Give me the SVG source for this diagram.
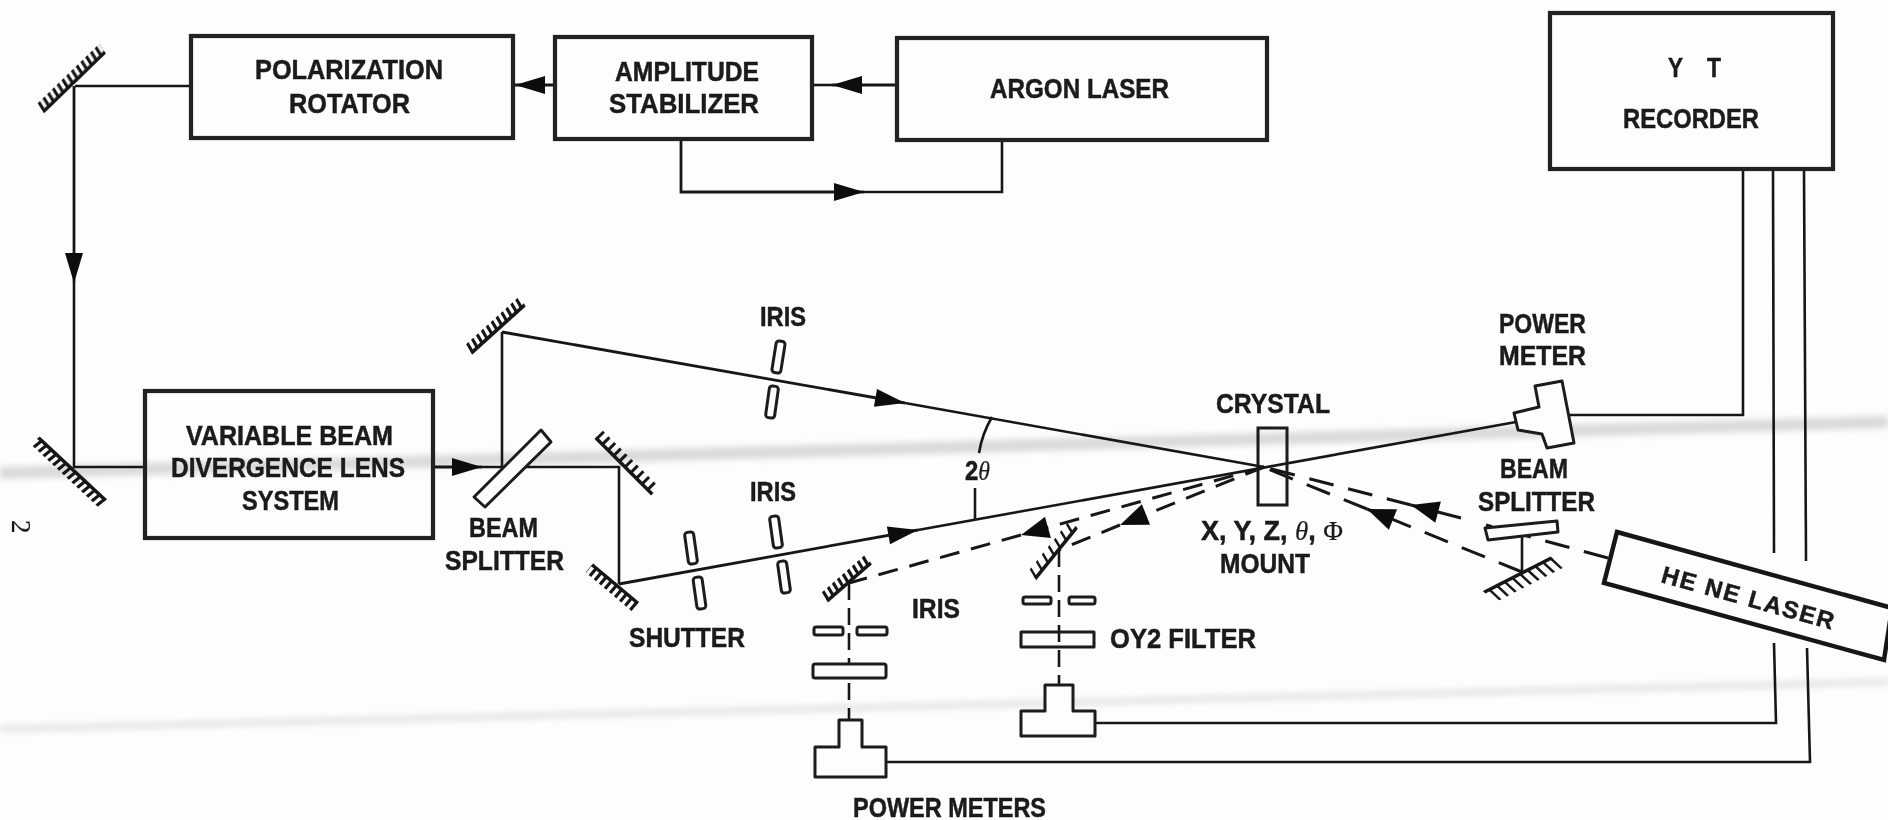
<svg xmlns="http://www.w3.org/2000/svg" width="1888" height="820" viewBox="0 0 1888 820">
<style>
.box{fill:none;stroke:#222;stroke-width:4.2}
.thin{fill:none;stroke:#1c1c1c;stroke-width:3;stroke-linejoin:miter}
.opt{fill:#fdfdfd;stroke:#1c1c1c;stroke-width:3;stroke-linejoin:round}
.w{fill:none;stroke:#181818;stroke-width:2.6}
.a{fill:none;stroke:#181818;stroke-width:2.8;marker-end:url(#arrow)}
.d{fill:none;stroke:#181818;stroke-width:3;stroke-dasharray:20 12}
.dr{fill:none;stroke:#181818;stroke-width:3;stroke-dasharray:25 15}
.da{fill:none;stroke:#181818;stroke-width:3;stroke-dasharray:25 15;marker-end:url(#wedge)}
.dl{fill:none;stroke:#181818;stroke-width:3;stroke-dasharray:20 12;marker-end:url(#wedge)}
.dv{fill:none;stroke:#181818;stroke-width:2.6;stroke-dasharray:17 8}
.m{stroke:#151515;stroke-width:3.5}
.h{stroke:#151515;stroke-width:10;stroke-dasharray:3.2 3.4}
text{font-family:"Liberation Sans",Arial,sans-serif;font-weight:700;font-size:28px;fill:#1a1a1a;stroke:#1a1a1a;stroke-width:.5}
.s{font-family:"Liberation Serif","Times New Roman",serif;font-weight:400;stroke-width:.2}
</style>
<defs>
<marker id="arrow" markerUnits="userSpaceOnUse" markerWidth="30" markerHeight="20" refX="30" refY="10" orient="auto" overflow="visible"><path d="M0 1L30 10L0 19Z" fill="#111"/></marker>
<marker id="wedge" markerUnits="userSpaceOnUse" markerWidth="28" markerHeight="24" refX="28" refY="12" orient="auto" overflow="visible"><path d="M0 1L28 12L0 23Z" fill="#111"/></marker>
<filter id="soft" x="-5%" y="-5%" width="110%" height="110%"><feGaussianBlur stdDeviation="0.55"/></filter>
<filter id="fold" x="-5%" y="-50%" width="110%" height="200%"><feGaussianBlur stdDeviation="3"/></filter>
</defs>
<rect width="1888" height="820" fill="#fdfdfd"/>
<g id="page-folds" filter="url(#fold)">
<line x1="0" y1="473" x2="1888" y2="422" stroke="#d9d9d9" stroke-width="12"/>
<line x1="0" y1="729" x2="1888" y2="682" stroke="#e2e2e2" stroke-width="6"/>
</g>
<g filter="url(#soft)">
<g id="connectors">
<path class="w" d="M190 86H75"/>
<path class="a" d="M74 86V283"/><path class="w" d="M74 283V467H145"/>
<path class="a" d="M555 85H515"/>
<path class="a" d="M897 85H832"/><path class="w" d="M832 85H812"/>
<path class="a" d="M681 139V192H864"/><path class="w" d="M864 192H1002V140"/>
<path class="a" d="M433 467H482"/><path class="w" d="M482 467H619V584"/>
<path class="w" d="M502 467V332"/>
<path class="a" d="M502 332L905 403"/><path class="w" d="M905 403L1264 467"/>
<path class="a" d="M619 584L918 530"/><path class="w" d="M918 530L1516 422"/>
<path class="w" d="M975 488V520"/>
<path class="w" d="M992 417Q982 434 979 453"/>
<path class="dl" d="M1264 467L1021 535"/><path class="d" d="M1021 535L849 583"/>
<path class="dl" d="M1264 467L1120 525"/><path class="d" d="M1120 525L1059 550"/>
<path class="dr" d="M1608 558L1486 525"/>
<path class="da" d="M1461 518L1411 505"/><path class="dr" d="M1411 505L1268 468"/>
<path class="da" d="M1522 572L1367 509"/><path class="dr" d="M1367 509L1268 469"/>
<path class="w" d="M1522 535V572"/>
<path class="dv" d="M849 583V720"/>
<path class="dv" d="M1059 550V685"/>
<path class="w" d="M1569 415H1743V169"/>
<path class="w" d="M1095 723H1776L1774 643M1774 553L1773 169"/>
<path class="w" d="M886 762H1810L1807 648M1806 561L1804 169"/>
</g>
<g id="polarization-rotator"><rect class="box" x="191" y="36" width="322" height="102"/>
<text x="255" y="79" textLength="188" lengthAdjust="spacingAndGlyphs">POLARIZATION</text>
<text x="289" y="113" textLength="121" lengthAdjust="spacingAndGlyphs">ROTATOR</text></g>
<g id="amplitude-stabilizer"><rect class="box" x="555" y="37" width="257" height="102"/>
<text x="615" y="81" textLength="144" lengthAdjust="spacingAndGlyphs">AMPLITUDE</text>
<text x="609" y="113" textLength="150" lengthAdjust="spacingAndGlyphs">STABILIZER</text></g>
<g id="argon-laser"><rect class="box" x="897" y="38" width="370" height="102"/>
<text x="990" y="98" textLength="179" lengthAdjust="spacingAndGlyphs">ARGON LASER</text></g>
<g id="yt-recorder"><rect class="box" x="1550" y="13" width="283" height="156"/>
<text x="1668" y="77" textLength="15" lengthAdjust="spacingAndGlyphs">Y</text>
<text x="1707" y="77" textLength="14" lengthAdjust="spacingAndGlyphs">T</text>
<text x="1623" y="128" textLength="136" lengthAdjust="spacingAndGlyphs">RECORDER</text></g>
<g id="variable-beam-lens"><rect class="box" x="145" y="391" width="288" height="147"/>
<text x="186" y="445" textLength="207" lengthAdjust="spacingAndGlyphs">VARIABLE BEAM</text>
<text x="171" y="477" textLength="234" lengthAdjust="spacingAndGlyphs">DIVERGENCE LENS</text>
<text x="242" y="510" textLength="97" lengthAdjust="spacingAndGlyphs">SYSTEM</text></g>
<g id="mirror-1" transform="translate(74 82) rotate(-44) skewX(-12)"><line class="m" x1="-43" x2="43" y1="0" y2="0"/><line class="h" x1="-43" x2="43" y1="-5" y2="-5"/></g>
<g id="mirror-2" transform="translate(72 469) rotate(223) skewX(-8)"><line class="m" x1="-46" x2="46" y1="0" y2="0"/><line class="h" x1="-46" x2="46" y1="-5" y2="-5"/></g>
<g id="mirror-3" transform="translate(498 329) rotate(-42) skewX(-12)"><line class="m" x1="-36" x2="36" y1="0" y2="0"/><line class="h" x1="-36" x2="36" y1="-5" y2="-5"/></g>
<g id="mirror-4" transform="translate(624 466) rotate(45)"><line class="m" x1="-40" x2="40" y1="0" y2="0"/><line class="h" style="stroke-dasharray:3 5" x1="-40" x2="40" y1="-5" y2="-5"/></g>
<g id="mirror-5" transform="translate(615 584) rotate(220)"><line class="m" x1="-30" x2="30" y1="0" y2="0"/><line class="h" x1="-30" x2="30" y1="-5" y2="-5"/></g>
<g id="mirror-a" transform="translate(849 582) rotate(-41) skewX(-10)"><line class="m" x1="-29" x2="29" y1="0" y2="0"/><line class="h" x1="-29" x2="29" y1="-5" y2="-5"/></g>
<g id="mirror-b" transform="translate(1056 553) rotate(-51) skewX(-20)"><line class="m" x1="-33" x2="33" y1="0" y2="0"/><line class="h" style="stroke-dasharray:2.6 7" x1="-33" x2="33" y1="-5" y2="-5"/></g>
<g id="mirror-c" transform="translate(1518 575) rotate(153) skewX(20)"><line class="m" x1="-38" x2="38" y1="0" y2="0"/><line class="h" style="stroke-width:14;stroke-dasharray:2.6 6" x1="-38" x2="38" y1="-7" y2="-7"/></g>
<g id="beam-splitter-1"><polygon class="opt" points="541,430 551,442 485,507 474,497"/>
<text x="469" y="537" textLength="69" lengthAdjust="spacingAndGlyphs">BEAM</text>
<text x="445" y="570" textLength="119" lengthAdjust="spacingAndGlyphs">SPLITTER</text></g>
<g id="beam-splitter-2"><polygon class="opt" points="1485,528 1557,521 1558,532 1488,540"/>
<text x="1500" y="478" textLength="68" lengthAdjust="spacingAndGlyphs">BEAM</text>
<text x="1478" y="511" textLength="117" lengthAdjust="spacingAndGlyphs">SPLITTER</text></g>
<g id="iris-top"><rect class="opt" x="-4.5" y="-16" width="9" height="32" rx="3" transform="translate(778.5 357) rotate(9)"/>
<rect class="opt" x="-4.5" y="-16" width="9" height="32" rx="3" transform="translate(772 402) rotate(8)"/>
<text x="760" y="326" textLength="46" lengthAdjust="spacingAndGlyphs">IRIS</text></g>
<g id="shutter"><rect class="opt" x="-4.5" y="-16" width="9" height="32" rx="3" transform="translate(691 548) rotate(-8)"/>
<rect class="opt" x="-4.5" y="-16" width="9" height="32" rx="3" transform="translate(699.5 593) rotate(-8)"/>
<text x="629" y="647" textLength="116" lengthAdjust="spacingAndGlyphs">SHUTTER</text></g>
<g id="iris-lower"><rect class="opt" x="-4.5" y="-16" width="9" height="32" rx="3" transform="translate(776 532) rotate(-8)"/>
<rect class="opt" x="-4.5" y="-16" width="9" height="32" rx="3" transform="translate(784 577) rotate(-8)"/>
<text x="750" y="501" textLength="46" lengthAdjust="spacingAndGlyphs">IRIS</text></g>
<g id="crystal"><rect class="thin" x="1258" y="428" width="29" height="77"/>
<text x="1216" y="413" textLength="114" lengthAdjust="spacingAndGlyphs">CRYSTAL</text>
<text x="1201" y="540" textLength="142" lengthAdjust="spacingAndGlyphs">X, Y, Z, <tspan class="s" font-style="italic">θ</tspan>, <tspan class="s">Φ</tspan></text>
<text x="1220" y="573" textLength="90" lengthAdjust="spacingAndGlyphs">MOUNT</text></g>
<g id="angle-label"><text x="965" y="480" textLength="25" lengthAdjust="spacingAndGlyphs">2<tspan class="s" font-style="italic">θ</tspan></text></g>
<g id="power-meter-1"><polygon class="opt" points="1535,386 1562,381 1574,443 1547,448 1542,434 1518,430 1514,413 1539,407"/>
<text x="1499" y="333" textLength="87" lengthAdjust="spacingAndGlyphs">POWER</text>
<text x="1499" y="365" textLength="87" lengthAdjust="spacingAndGlyphs">METER</text></g>
<g id="iris-a"><rect class="opt" x="814" y="627" width="29" height="8" rx="2"/><rect class="opt" x="857" y="627" width="30" height="8" rx="2"/>
<text x="912" y="618" textLength="48" lengthAdjust="spacingAndGlyphs">IRIS</text></g>
<g id="filter-a"><rect class="opt" x="813" y="664" width="73" height="14" rx="2"/></g>
<g id="iris-b"><rect class="opt" x="1023" y="597" width="28" height="7" rx="2"/><rect class="opt" x="1069" y="597" width="26" height="7" rx="2"/></g>
<g id="filter-b"><rect class="opt" x="1021" y="632" width="73" height="15" style="fill:none"/>
<text x="1110" y="648" textLength="146" lengthAdjust="spacingAndGlyphs">OY2 FILTER</text></g>
<g id="power-meter-a"><polygon class="opt" points="839,720 862,720 862,747 886,747 886,777 815,777 815,747 839,747"/></g>
<g id="power-meter-b"><polygon class="opt" points="1045,685 1073,685 1073,711 1095,711 1095,736 1021,736 1021,711 1045,711"/>
<text x="853" y="817" textLength="193" lengthAdjust="spacingAndGlyphs">POWER METERS</text></g>
<g id="he-ne-laser"><polygon points="1617,532 1892,608 1884,660 1604,583" fill="#fdfdfd" stroke="#161616" stroke-width="4.5"/>
<text transform="translate(1660 582) rotate(15.5)" style="font-size:24px" textLength="178" lengthAdjust="spacing">HE NE LASER</text></g>
<g id="page-number"><text class="s" transform="translate(12 520) rotate(90)" style="font-size:27px">2</text></g>
</g>
</svg>
